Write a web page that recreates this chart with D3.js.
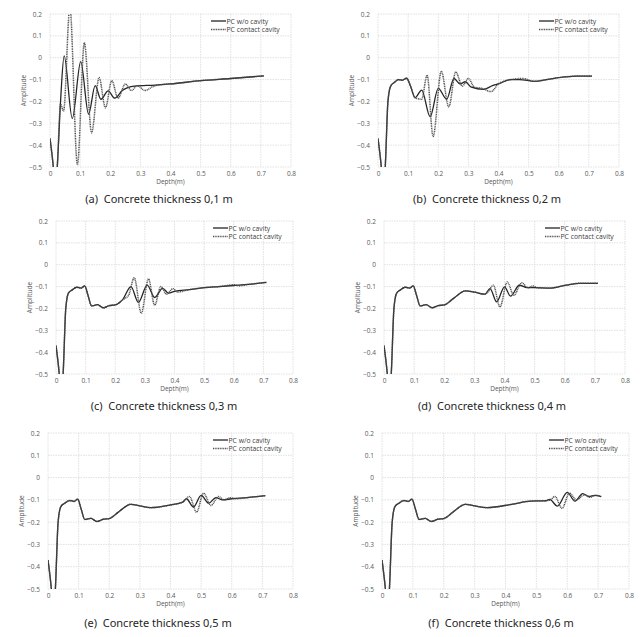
<!DOCTYPE html>
<html>
<head>
<meta charset="utf-8">
<script src="https://cdn.jsdelivr.net/npm/d3@7"></script>
<style>
  body { margin: 0; background: #fff; }
  svg { display: block; }
  text { font-family: "Open Sans", "Noto Sans", sans-serif; }
</style>
</head>
<body>
<div id="chart"></div>
<script>
// axis ticks
const depthTicks = [0, 0.1, 0.2, 0.3, 0.4, 0.5, 0.6, 0.7, 0.8];
const ampTicks = [0.2, 0.1, 0, -0.1, -0.2, -0.3, -0.4, -0.5];
const seriesNames = ['PC w/o cavity', 'PC contact cavity'];
const captions = [
  '(a)  Concrete thickness 0,1 m', '(b)  Concrete thickness 0,2 m',
  '(c)  Concrete thickness 0,3 m', '(d)  Concrete thickness 0,4 m',
  '(e)  Concrete thickness 0,5 m', '(f)  Concrete thickness 0,6 m'
];

// [depth, amplitude]
const woCavityA = [[0,-0.37],[0.011,-0.5],[0.017,-0.6],[0.024,-0.5],[0.035,-0.2],[0.047,0.008],[0.074,-0.278],[0.102,-0.018],[0.128,-0.258],[0.15,-0.128],[0.169,-0.19],[0.193,-0.152],[0.215,-0.185],[0.24,-0.15],[0.28,-0.13],[0.35,-0.125],[0.4,-0.12],[0.5,-0.105],[0.6,-0.095],[0.71,-0.083]];
const contactA = [[0,-0.37],[0.011,-0.5],[0.017,-0.6],[0.024,-0.5],[0.035,-0.213],[0.045,-0.244],[0.066,0.23],[0.091,-0.49],[0.114,0.069],[0.138,-0.343],[0.163,-0.091],[0.184,-0.229],[0.205,-0.105],[0.226,-0.185],[0.25,-0.12],[0.27,-0.15],[0.29,-0.128],[0.315,-0.15],[0.345,-0.13],[0.38,-0.122],[0.4,-0.12],[0.5,-0.105],[0.6,-0.095],[0.71,-0.083]];

const woCavityB = [[0,-0.37],[0.011,-0.5],[0.017,-0.6],[0.024,-0.5],[0.033,-0.2],[0.042,-0.13],[0.055,-0.112],[0.068,-0.1],[0.08,-0.103],[0.095,-0.094],[0.108,-0.13],[0.123,-0.183],[0.145,-0.148],[0.173,-0.27],[0.2,-0.14],[0.228,-0.19],[0.252,-0.095],[0.272,-0.12],[0.29,-0.11],[0.31,-0.135],[0.35,-0.145],[0.38,-0.128],[0.4,-0.12],[0.44,-0.1],[0.47,-0.1],[0.52,-0.108],[0.56,-0.1],[0.62,-0.088],[0.66,-0.084],[0.71,-0.084]];
const contactB = [[0,-0.37],[0.011,-0.5],[0.017,-0.6],[0.024,-0.5],[0.033,-0.2],[0.042,-0.13],[0.055,-0.112],[0.068,-0.1],[0.08,-0.103],[0.095,-0.094],[0.108,-0.13],[0.123,-0.183],[0.145,-0.19],[0.163,-0.08],[0.183,-0.36],[0.21,-0.062],[0.235,-0.225],[0.258,-0.065],[0.28,-0.13],[0.3,-0.095],[0.32,-0.135],[0.345,-0.14],[0.375,-0.155],[0.4,-0.12],[0.44,-0.1],[0.48,-0.095],[0.52,-0.108],[0.56,-0.1],[0.62,-0.088],[0.66,-0.084],[0.71,-0.084]];

// common start of panels c-f
const headCurve = [[0,-0.37],[0.011,-0.5],[0.017,-0.6],[0.024,-0.5],[0.033,-0.2],[0.042,-0.13],[0.055,-0.115],[0.07,-0.103],[0.085,-0.107],[0.097,-0.097],[0.108,-0.14],[0.12,-0.188],[0.14,-0.183],[0.16,-0.197],[0.18,-0.187],[0.2,-0.184]];

const woCavityC = headCurve.concat([[0.225,-0.16],[0.253,-0.1],[0.278,-0.172],[0.308,-0.093],[0.333,-0.15],[0.36,-0.108],[0.38,-0.13],[0.4,-0.122],[0.45,-0.114],[0.5,-0.105],[0.55,-0.1],[0.6,-0.095],[0.65,-0.09],[0.71,-0.081]]);
const contactC = headCurve.concat([[0.225,-0.16],[0.245,-0.14],[0.264,-0.06],[0.288,-0.222],[0.312,-0.065],[0.333,-0.185],[0.354,-0.1],[0.373,-0.135],[0.395,-0.11],[0.41,-0.125],[0.45,-0.114],[0.5,-0.105],[0.55,-0.1],[0.6,-0.092],[0.62,-0.096],[0.65,-0.09],[0.71,-0.081]]);

const woCavityD = headCurve.concat([[0.23,-0.155],[0.27,-0.12],[0.3,-0.125],[0.335,-0.135],[0.352,-0.109],[0.374,-0.17],[0.4,-0.101],[0.42,-0.144],[0.449,-0.094],[0.475,-0.105],[0.5,-0.105],[0.55,-0.107],[0.6,-0.095],[0.65,-0.085],[0.71,-0.085]]);
const contactD = headCurve.concat([[0.23,-0.155],[0.27,-0.12],[0.3,-0.125],[0.335,-0.135],[0.345,-0.125],[0.363,-0.094],[0.385,-0.193],[0.409,-0.079],[0.431,-0.14],[0.457,-0.083],[0.478,-0.105],[0.495,-0.097],[0.51,-0.106],[0.55,-0.107],[0.6,-0.095],[0.65,-0.085],[0.71,-0.085]]);

const woCavityE = headCurve.concat([[0.23,-0.155],[0.27,-0.12],[0.3,-0.127],[0.335,-0.135],[0.4,-0.123],[0.44,-0.11],[0.452,-0.095],[0.475,-0.132],[0.5,-0.08],[0.525,-0.115],[0.548,-0.09],[0.57,-0.1],[0.6,-0.095],[0.65,-0.09],[0.71,-0.081]]);
const contactE = headCurve.concat([[0.23,-0.155],[0.27,-0.12],[0.3,-0.127],[0.335,-0.135],[0.4,-0.123],[0.44,-0.11],[0.462,-0.085],[0.485,-0.155],[0.508,-0.07],[0.532,-0.125],[0.557,-0.085],[0.575,-0.1],[0.595,-0.09],[0.61,-0.095],[0.65,-0.09],[0.71,-0.081]]);

const woCavityF = headCurve.concat([[0.23,-0.155],[0.27,-0.12],[0.3,-0.127],[0.34,-0.135],[0.42,-0.12],[0.48,-0.106],[0.53,-0.104],[0.543,-0.098],[0.568,-0.128],[0.6,-0.066],[0.625,-0.106],[0.65,-0.072],[0.67,-0.085],[0.69,-0.08],[0.71,-0.085]]);
const contactF = headCurve.concat([[0.23,-0.155],[0.27,-0.12],[0.3,-0.127],[0.34,-0.135],[0.42,-0.12],[0.48,-0.106],[0.53,-0.104],[0.545,-0.1],[0.56,-0.085],[0.583,-0.138],[0.607,-0.07],[0.63,-0.1],[0.655,-0.078],[0.675,-0.088],[0.69,-0.08],[0.71,-0.085]]);

const panelSeries = [
  [woCavityA, contactA], [woCavityB, contactB], [woCavityC, contactC],
  [woCavityD, contactD], [woCavityE, contactE], [woCavityF, contactF]
];

// layout of each sub-figure (plot box + caption centre)
const layout = [
  {left: 50, right: 291, top: 14, bottom: 167, capX: 159, capY: 203},
  {left: 378, right: 619, top: 14, bottom: 167, capX: 487, capY: 203},
  {left: 56, right: 293, top: 221, bottom: 374, capX: 164, capY: 410},
  {left: 384, right: 625, top: 221, bottom: 374, capX: 492, capY: 410},
  {left: 48, right: 293, top: 433, bottom: 589, capX: 158, capY: 627},
  {left: 382, right: 629, top: 433, bottom: 589, capX: 501, capY: 627}
];

const W = 643, H = 637;
const svg = d3.select('#chart').append('svg')
  .attr('width', W)
  .attr('height', H);

const tickFmt = d => d === 0 ? '0' : d3.format('.1f')(d);

const drawPanel = (i) => {
  const box = layout[i];
  const [wo, contact] = panelSeries[i];
  const g = svg.append('g');

  const x = d3.scaleLinear().domain([0, 0.8]).range([box.left, box.right]);
  const y = d3.scaleLinear().domain([-0.5, 0.2]).range([box.bottom, box.top]);

  // grid
  g.append('g')
    .selectAll('line')
    .data(depthTicks)
    .enter()
    .append('line')
    .attr('x1', d => x(d)).attr('x2', d => x(d))
    .attr('y1', box.top).attr('y2', box.bottom)
    .attr('stroke', '#d9d9d9')
    .attr('stroke-width', 0.8)
    .attr('stroke-dasharray', '1.5,1');
  g.append('g')
    .selectAll('line')
    .data(ampTicks)
    .enter()
    .append('line')
    .attr('x1', box.left).attr('x2', box.right)
    .attr('y1', d => y(d)).attr('y2', d => y(d))
    .attr('stroke', '#d9d9d9')
    .attr('stroke-width', 0.8)
    .attr('stroke-dasharray', '1.5,1');

  // tick labels
  const xAxis = g.append('g')
    .attr('transform', `translate(0,${box.bottom})`)
    .call(d3.axisBottom(x).tickValues(depthTicks).tickFormat(tickFmt).tickSize(0).tickPadding(8));
  const yAxis = g.append('g')
    .attr('transform', `translate(${box.left},0)`)
    .call(d3.axisLeft(y).tickValues(ampTicks).tickFormat(tickFmt).tickSize(0).tickPadding(8));
  [xAxis, yAxis].forEach(a => {
    a.select('.domain').remove();
    a.selectAll('text')
      .style('font-size', '6.5px')
      .style('font-family', '"Open Sans", sans-serif')
      .attr('fill', '#595959');
  });
  xAxis.selectAll('text').attr('dy', '0.2em');

  g.append('text')
    .attr('x', (box.left + box.right) / 2)
    .attr('y', box.bottom + 17)
    .attr('text-anchor', 'middle')
    .style('font-size', '6.5px')
    .attr('fill', '#595959')
    .text('Depth(m)');
  g.append('text')
    .attr('transform', `translate(${box.left - 27},${(box.top + box.bottom) / 2}) rotate(-90)`)
    .attr('text-anchor', 'middle')
    .attr('dominant-baseline', 'central')
    .style('font-size', '6.5px')
    .attr('fill', '#595959')
    .text('Amplitude');

  // lines
  const clipId = `clip${i}`;
  g.append('clipPath').attr('id', clipId)
    .append('rect')
    .attr('x', box.left).attr('y', box.top)
    .attr('width', box.right - box.left)
    .attr('height', box.bottom - box.top);
  const line = d3.line()
    .x(d => x(d[0]))
    .y(d => y(d[1]))
    .curve(d3.curveMonotoneX);
  const lines = g.append('g').attr('clip-path', `url(#${clipId})`);
  lines.append('path')
    .attr('d', line(wo))
    .attr('fill', 'none')
    .attr('stroke', '#262626')
    .attr('stroke-width', 1.3);
  lines.append('path')
    .attr('d', line(contact))
    .attr('fill', 'none')
    .attr('stroke', '#4d4d4d')
    .attr('stroke-width', 1.5)
    .attr('stroke-dasharray', '1,0.7');

  // legend
  const lx = box.right - 80;
  const ly = box.top + 7;
  seriesNames.forEach((name, k) => {
    g.append('line')
      .attr('x1', lx).attr('x2', lx + 15)
      .attr('y1', ly + k * 8.5).attr('y2', ly + k * 8.5)
      .attr('stroke', k === 0 ? '#262626' : '#4d4d4d')
      .attr('stroke-width', k === 0 ? 1.3 : 1.5)
      .attr('stroke-dasharray', k === 0 ? null : '1,0.7');
    g.append('text')
      .attr('x', lx + 15.5)
      .attr('y', ly + k * 8.5)
      .attr('dominant-baseline', 'central')
      .style('font-size', '6.8px')
      .attr('fill', '#404040')
      .text(name);
  });

  // caption
  g.append('text')
    .attr('x', box.capX)
    .attr('y', box.capY)
    .attr('text-anchor', 'middle')
    .style('font-size', '11px')
    .style('font-family', '"Noto Sans", sans-serif')
    .attr('fill', '#262626')
    .attr('xml:space', 'preserve')
    .style('white-space', 'pre')
    .text(captions[i]);
};

d3.range(6).forEach(drawPanel);
</script>
</body>
</html>
